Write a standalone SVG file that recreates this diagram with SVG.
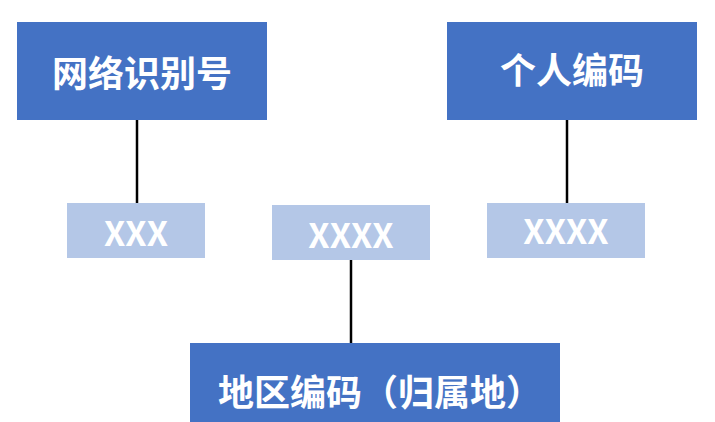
<svg xmlns="http://www.w3.org/2000/svg" width="715" height="422" viewBox="0 0 715 422">
<style>
.big{fill:#4472C4}
.sm{fill:#B4C7E7}
.t{fill:#fff;font-family:"Noto Sans CJK SC","Liberation Sans",sans-serif;font-weight:bold;text-anchor:middle;dominant-baseline:central}
.c{stroke:#000;stroke-width:2.5}
</style>
<rect width="715" height="422" fill="#fff"/>
<g id="connectors">
<line class="c" x1="137" y1="120" x2="137" y2="203"/>
<line class="c" x1="567" y1="120" x2="567" y2="203"/>
<line class="c" x1="351" y1="260" x2="351" y2="343"/>
</g>
<g id="n1"><rect class="big" x="17" y="22" width="250" height="98"/><text class="t" x="142" y="71" font-size="36">网络识别号</text></g>
<g id="n2"><rect class="big" x="447" y="22" width="250" height="98"/><text class="t" x="572" y="68" font-size="36">个人编码</text></g>
<g id="n3"><rect class="sm" x="67" y="203" width="138" height="55"/><text class="t" x="136" y="231" font-size="34">XXX</text></g>
<g id="n4"><rect class="sm" x="272" y="205" width="158" height="55"/><text class="t" x="351" y="233" font-size="34">XXXX</text></g>
<g id="n5"><rect class="sm" x="487" y="203" width="158" height="55"/><text class="t" x="566" y="229" font-size="34">XXXX</text></g>
<g id="n6"><rect class="big" x="190" y="343" width="370" height="79"/><text class="t" x="380" y="390" font-size="36">地区编码（归属地）</text></g>
</svg>
